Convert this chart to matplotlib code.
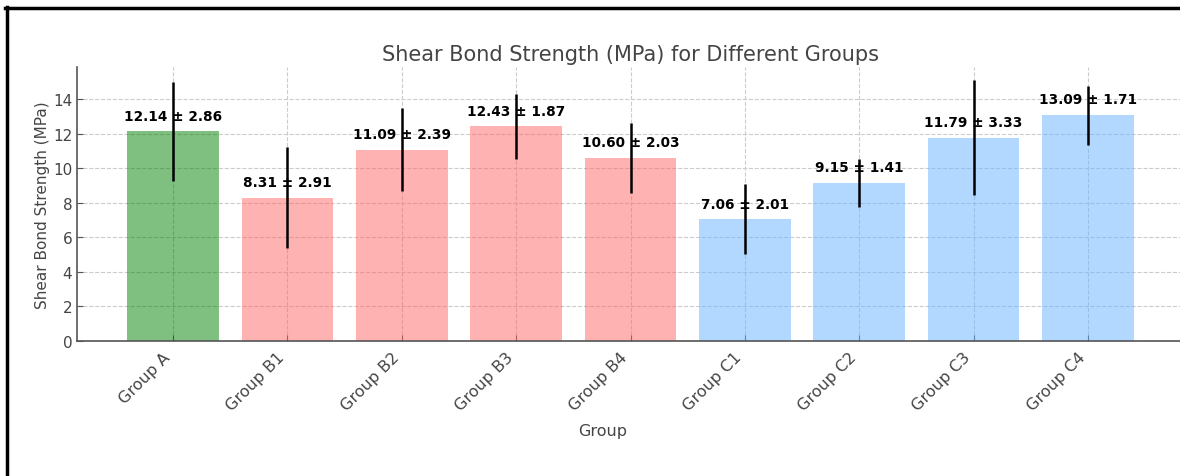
import numpy as np
import matplotlib
matplotlib.use("Agg")
import matplotlib.pyplot as plt
from matplotlib.lines import Line2D

# data
groups = ["Group A", "Group B1", "Group B2", "Group B3", "Group B4",
          "Group C1", "Group C2", "Group C3", "Group C4"]
means = [12.14, 8.31, 11.09, 12.43, 10.60, 7.06, 9.15, 11.79, 13.09]
sds = [2.86, 2.91, 2.39, 1.87, 2.03, 2.01, 1.41, 3.33, 1.71]
bar_colors = ["green"] + ["#ff6666"] * 4 + ["#66b3ff"] * 4

W, H = 1180, 477
fig = plt.figure(figsize=(W / 100, H / 100), dpi=100)
ax = fig.add_axes([77 / W, (H - 342) / H, (1184 - 77) / W, (342 - 68) / H])

gray = "#555555"
x = np.arange(len(groups))
ax.bar(x, means, yerr=sds, color=bar_colors, alpha=0.5, width=0.8,
       error_kw=dict(ecolor="black", elinewidth=1.8, capsize=0))

for xi, m, s in zip(x, means, sds):
    ax.text(xi, m + 0.5, f"{m:.2f} \u00b1 {s:.2f}", ha="center", va="bottom",
            fontsize=9.8, fontweight="bold", color="black")

ax.set_xticks(x)
ax.set_xticklabels(groups, rotation=45, ha="right", fontsize=11.5, color="#444444")
ax.tick_params(axis="x", pad=6)
ax.tick_params(axis="y", labelsize=11, labelcolor="#444444")
ax.tick_params(direction="in", color=gray, length=4)
ax.set_yticks([0, 2, 4, 6, 8, 10, 12, 14])

ax.set_title("Shear Bond Strength (MPa) for Different Groups", fontsize=15,
             color="#444444", pad=5)
ax.set_xlabel("Group", fontsize=11.5, color="#444444")
ax.xaxis.set_label_coords(0.475, -0.30)
ax.set_ylabel("Shear Bond Strength (MPa)", fontsize=11, color="#444444", labelpad=2)

ax.grid(True, linestyle="--", color="#cccccc", linewidth=0.8)
ax.set_axisbelow(True)
for sp in ["top", "right"]:
    ax.spines[sp].set_visible(False)
for sp in ["left", "bottom"]:
    ax.spines[sp].set_color(gray)
    ax.spines[sp].set_linewidth(1.2)

# screenshot frame (left and top edges)
fig.add_artist(Line2D([6.5 / W, 6.5 / W], [0, 1 - 8 / H], color="black", lw=2.5,
                      transform=fig.transFigure))
fig.add_artist(Line2D([5 / W, 1], [1 - 9 / H, 1 - 9 / H], color="black", lw=2.5,
                      transform=fig.transFigure))

fig.savefig("out.png", dpi=100)
